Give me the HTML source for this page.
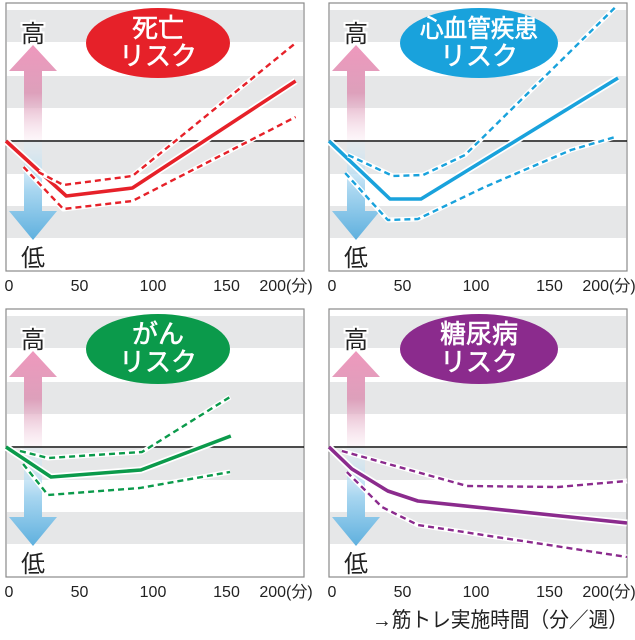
<!DOCTYPE html>
<html><head><meta charset="utf-8"><style>
html,body{margin:0;padding:0;background:#fff;}
svg{display:block;}
text{font-family:"Liberation Sans","Noto Sans CJK JP",sans-serif;}
</style></head><body>
<svg id="chart" width="635" height="640" viewBox="0 0 635 640" xmlns="http://www.w3.org/2000/svg">
<defs>
<linearGradient id="gup" x1="0" y1="0" x2="0" y2="1"><stop offset="0" stop-color="#ee98bd"/><stop offset="0.5" stop-color="#dda0bb"/><stop offset="1" stop-color="#f4d6e4" stop-opacity="0.2"/></linearGradient>
<linearGradient id="gdn" x1="0" y1="0" x2="0" y2="1"><stop offset="0" stop-color="#d6ecf8" stop-opacity="0.2"/><stop offset="0.5" stop-color="#a8d6f0"/><stop offset="1" stop-color="#5fb0de"/></linearGradient>
</defs>
<g id="panels"></g>
<text x="372" y="627" font-size="21" textLength="256" lengthAdjust="spacingAndGlyphs" fill="#222">→筋トレ実施時間（分／週）</text>
</svg>
<script>
// categories
const panelTitles = [["死亡","リスク"],["心血管疾患","リスク"],["がん","リスク"],["糖尿病","リスク"]];
const panelColors = ["#e62129","#19a2dc","#0b9a4b","#8b2b8d"];
const xTickLabels = ["0","50","100","150","200(分)"];
const xTickValues = [0,50,100,150,200];
// series: minutes per week
const tlMin = [0,41,86,197];        const tlRisk = [1,0.725,0.765,1.3];
const tlUpMin = [22,39,86,197];     const tlUpRisk = [0.845,0.78,0.825,1.49];
const tlLoMin = [12,39,86,197];     const tlLoRisk = [0.87,0.66,0.70,1.12];
const trMin = [0,41.5,62.6,196.6];  const trRisk = [1,0.71,0.71,1.315];
const trUpMin = [13,43.5,64,92.5,195]; const trUpRisk = [0.93,0.825,0.83,0.93,1.67];
const trLoMin = [11,40,60.5,106,164.6,194.6]; const trLoRisk = [0.84,0.605,0.61,0.77,0.955,1.02];
const blMin = [0,30.6,91.8,152.9];  const blRisk = [1,0.85,0.885,1.055];
const blUpMin = [9.5,28.6,92.5,152.4]; const blUpRisk = [0.98,0.945,0.975,1.25];
const blLoMin = [11.6,28.6,91,152.4];  const blLoRisk = [0.915,0.76,0.795,0.875];
const brMin = [0,15.6,40,60.5,202.7];  const brRisk = [1,0.89,0.78,0.73,0.62];
const brUpMin = [8.8,93.9,155.8,202.7]; const brUpRisk = [0.98,0.805,0.8,0.83];
const brLoMin = [12.2,36,60.5,202.7];   const brLoRisk = [0.875,0.70,0.61,0.45];

const series = [
  [[tlMin,tlRisk],[tlUpMin,tlUpRisk],[tlLoMin,tlLoRisk]],
  [[trMin,trRisk],[trUpMin,trUpRisk],[trLoMin,trLoRisk]],
  [[blMin,blRisk],[blUpMin,blUpRisk],[blLoMin,blLoRisk]],
  [[brMin,brRisk],[brUpMin,brUpRisk],[brLoMin,brLoRisk]]
];
const NS="http://www.w3.org/2000/svg";
const root=document.getElementById('panels');
function mk(tag,attrs,parent){const e=document.createElementNS(NS,tag);for(const k in attrs)e.setAttribute(k,attrs[k]);(parent||root).appendChild(e);return e;}
const origins=[[6,3],[329,3],[6,309],[329,309]];
const PW=298, PH=268, BASE=138;
origins.forEach((o,i)=>{
  const [x0,y0]=o;
  const g=mk('g',{});
  
  
  const xs=m=>x0+m*1.47;
  const ys=r=>y0+BASE-(r-1)*200;
  const bg=mk('rect',{x:x0,y:y0,width:PW,height:PH,fill:'#fff',stroke:'#8a8a8a','stroke-width':1.2},g);
  
  
  [7,73,139,203].forEach(b=>{
    const s=mk('rect',{x:x0+0.6,y:y0+b,width:PW-1.2,height:32,fill:'#e6e7e8'},g);
    
    
  });
  const ax=x0+27;
  const up=mk('path',{d:`M${ax} ${y0+42} L${ax+24} ${y0+68} L${ax+9} ${y0+68} L${ax+9} ${y0+BASE} L${ax-9} ${y0+BASE} L${ax-9} ${y0+68} L${ax-24} ${y0+68}Z`,fill:'url(#gup)'},g);
  
  
  const dn=mk('path',{d:`M${ax-9} ${y0+BASE} L${ax+9} ${y0+BASE} L${ax+9} ${y0+208} L${ax+24} ${y0+208} L${ax} ${y0+237} L${ax-24} ${y0+208} L${ax-9} ${y0+208}Z`,fill:'url(#gdn)'},g);
  
  
  const hi=mk('text',{x:ax,y:y0+39,'font-size':24,'text-anchor':'middle',fill:'#222',stroke:'#fff','stroke-width':4,'paint-order':'stroke'},g);
  hi.textContent='高';
  
  
  const lo=mk('text',{x:ax,y:y0+263,'font-size':24,'text-anchor':'middle',fill:'#222'},g);
  lo.textContent='低';
  
  
  const bl=mk('line',{x1:x0,x2:x0+PW,y1:y0+BASE,y2:y0+BASE,stroke:'#111','stroke-width':1.5},g);
  
  
  const cx=(i%2===0)?x0+152:x0+150, rx=(i%2===0)?72:79;
  const el=mk('ellipse',{cx:cx,cy:y0+40,rx:rx,ry:35,fill:panelColors[i]},g);
  
  
  panelTitles[i].forEach((t,k)=>{
    const attrs={x:cx,y:y0+34+k*28,'font-size':26,'text-anchor':'middle',fill:'#fff',stroke:'#fff','stroke-width':0.6};
    if(t.length>=5){attrs['font-size']=25;attrs.textLength=118;attrs.lengthAdjust='spacingAndGlyphs';}
    const tt=mk('text',attrs,g);
    tt.textContent=t;
    
    
  });
  series[i].forEach((s,k)=>{
    const pts=s[0].map((m,j)=>xs(m).toFixed(1)+','+ys(s[1][j]).toFixed(1)).join(' ');
    const halo=mk('polyline',{points:pts,fill:'none',stroke:'#fff','stroke-width':k===0?7:5,'stroke-linejoin':'round'},g);
    
    
    const ln=mk('polyline',{points:pts,fill:'none',stroke:panelColors[i],'stroke-width':k===0?3.6:2.4,'stroke-linejoin':'round'},g);
    if(k>0)ln.setAttribute('stroke-dasharray','6 4');
    
    
  });
  xTickValues.forEach((v,k)=>{
    const tx=mk('text',{x:v===200?xs(v)-14:xs(v)+(v===0?3:0),y:y0+PH+20,'font-size':16,'text-anchor':'middle',fill:'#222'},g);
    tx.textContent=xTickLabels[k];
    
    
  });
});
</script>
</body></html>
